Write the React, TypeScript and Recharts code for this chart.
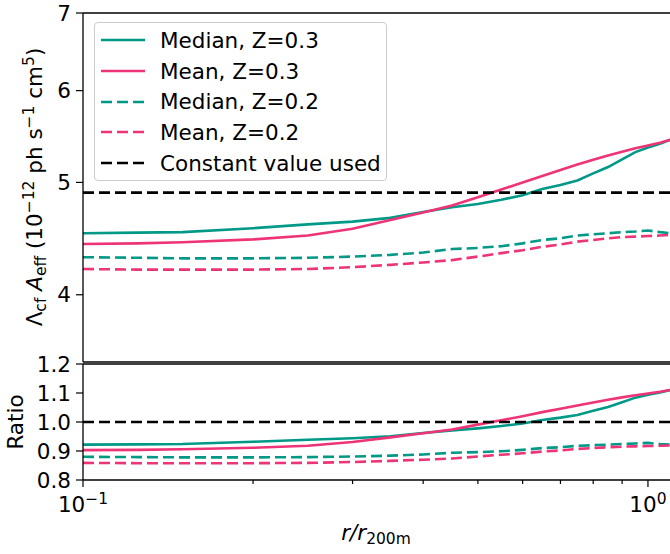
import React from 'react';
import { LineChart, Line, XAxis, YAxis, ReferenceLine, Legend, Label } from 'recharts';

const FONT = '"DejaVu Sans", sans-serif';
const TEAL = '#009988';
const PINK = '#EE3377';
const FS = 21.5;
const FS_SMALL = 15.5;

// r / r200m sample points
const radius = [0.1, 0.125, 0.15, 0.2, 0.25, 0.3, 0.35, 0.4, 0.45, 0.5, 0.55, 0.6, 0.65, 0.7, 0.75, 0.8, 0.85, 0.9, 0.95, 1.0, 1.05, 1.1];

// Lambda_cf * A_eff, 1e-12 ph s^-1 cm^5
const medianZ03 = [4.52, 4.525, 4.53, 4.565, 4.6, 4.625, 4.66, 4.715, 4.76, 4.79, 4.83, 4.875, 4.935, 4.975, 5.02, 5.09, 5.155, 5.235, 5.31, 5.36, 5.4, 5.445];
const meanZ03 = [4.424, 4.43, 4.44, 4.465, 4.5, 4.56, 4.64, 4.71, 4.775, 4.855, 4.93, 5.0, 5.065, 5.125, 5.18, 5.23, 5.275, 5.315, 5.35, 5.38, 5.41, 5.445];
const medianZ02 = [4.31, 4.305, 4.3, 4.3, 4.305, 4.315, 4.33, 4.35, 4.38, 4.39, 4.405, 4.43, 4.46, 4.475, 4.5, 4.51, 4.52, 4.53, 4.535, 4.545, 4.53, 4.52];
const meanZ02 = [4.21, 4.205, 4.205, 4.205, 4.21, 4.225, 4.245, 4.265, 4.285, 4.315, 4.345, 4.37, 4.4, 4.42, 4.445, 4.46, 4.475, 4.485, 4.49, 4.495, 4.5, 4.505];
const constantValue = 4.9;

// ratio panel
const ratioMedianZ03 = [0.922, 0.923, 0.924, 0.932, 0.939, 0.944, 0.951, 0.962, 0.971, 0.978, 0.986, 0.995, 1.007, 1.015, 1.024, 1.039, 1.052, 1.068, 1.084, 1.094, 1.102, 1.111];
const ratioMeanZ03 = [0.903, 0.904, 0.906, 0.911, 0.918, 0.931, 0.947, 0.961, 0.974, 0.991, 1.006, 1.02, 1.034, 1.046, 1.057, 1.067, 1.077, 1.085, 1.092, 1.098, 1.104, 1.111];
const ratioMedianZ02 = [0.88, 0.879, 0.878, 0.878, 0.879, 0.881, 0.884, 0.888, 0.894, 0.896, 0.899, 0.904, 0.91, 0.913, 0.918, 0.92, 0.922, 0.924, 0.926, 0.928, 0.924, 0.922];
const ratioMeanZ02 = [0.859, 0.858, 0.858, 0.858, 0.859, 0.862, 0.866, 0.87, 0.874, 0.881, 0.887, 0.892, 0.898, 0.902, 0.907, 0.91, 0.913, 0.915, 0.916, 0.917, 0.918, 0.919];
const ratioConstant = 1.0;

const xTicks = [0.1, 0.2, 0.3, 0.4, 0.5, 0.6, 0.7, 0.8, 0.9, 1.0];
const topTicks = [4, 5, 6, 7];
const ratioTicks = [0.8, 0.9, 1.0, 1.1, 1.2];
const legendLabels = ['Median, Z=0.3', 'Mean, Z=0.3', 'Median, Z=0.2', 'Mean, Z=0.2', 'Constant value used'];

const X_DOMAIN: [number, number] = [0.1, 1.094];
const TOP_DOMAIN: [number, number] = [3.5, 7];
const RATIO_DOMAIN: [number, number] = [0.8, 1.2];

const topData = radius.map((r, i) => ({ r, a: medianZ03[i], b: meanZ03[i], c: medianZ02[i], d: meanZ02[i] }));
const ratioData = radius.map((r, i) => ({ r, a: ratioMedianZ03[i], b: ratioMeanZ03[i], c: ratioMedianZ02[i], d: ratioMeanZ02[i] }));

const lineStyles = [
  { key: 'a', color: TEAL, dash: undefined },
  { key: 'b', color: PINK, dash: undefined },
  { key: 'c', color: TEAL, dash: '11 5' },
  { key: 'd', color: PINK, dash: '11 5' },
  { key: 'k', color: '#000', dash: '11 5' },
];

const XTick = (props: any) => {
  const { x, y, payload } = props;
  const v = payload.value;
  const major = Math.abs(v - 0.1) < 1e-9 || Math.abs(v - 1) < 1e-9;
  return (
    <g>
      <line x1={x} x2={x} y1={y} y2={y + (major ? 7 : 4)} stroke="#000" strokeWidth={1.2} />
      {major && (
        <text x={x} y={y + 32} textAnchor="middle" fontFamily={FONT} fontSize={FS} fill="#000">
          10<tspan fontSize={FS_SMALL} dy={-8}>{v < 0.5 ? '\u22121' : '0'}</tspan>
        </text>
      )}
    </g>
  );
};

const YTick = (props: any) => {
  const { x, y, payload, digits } = props;
  return (
    <g>
      <line x1={x - 7} x2={x} y1={y} y2={y} stroke="#000" strokeWidth={1.2} />
      <text x={x - 12} y={y + 7.5} textAnchor="end" fontFamily={FONT} fontSize={FS} fill="#000">
        {payload.value.toFixed(digits)}
      </text>
    </g>
  );
};

const LegendBox = () => (
  <div
    style={{
      border: '1px solid #cccccc',
      borderRadius: 4,
      background: 'rgba(255,255,255,0.8)',
      width: 293,
      padding: '2px 0 2px 6px',
      fontFamily: FONT,
      fontSize: FS,
      color: '#000',
      boxSizing: 'border-box',
    }}
  >
    {legendLabels.map((label, i) => (
      <div key={label} style={{ display: 'flex', alignItems: 'center', height: 30.7 }}>
        <svg width={44} height={6} style={{ display: 'block' }}>
          <line x1={0} x2={44} y1={3} y2={3} stroke={lineStyles[i].color} strokeWidth={2.6} strokeDasharray={lineStyles[i].dash} />
        </svg>
        <span style={{ marginLeft: 15, whiteSpace: 'nowrap', lineHeight: 'normal' }}>{label}</span>
      </div>
    ))}
  </div>
);

const TopLabel = () => (
  <text transform="translate(42,187) rotate(-90)" textAnchor="middle" fontFamily={FONT} fontSize={FS} fill="#000">
    {'\u039B'}
    <tspan fontSize={FS_SMALL} dy={4}>cf</tspan>
    <tspan dy={-4}> </tspan>
    <tspan fontStyle="italic">A</tspan>
    <tspan fontSize={FS_SMALL} dy={4}>eff</tspan>
    <tspan dy={-4}> (10</tspan>
    <tspan fontSize={FS_SMALL} dy={-8}>{'\u221212'}</tspan>
    <tspan dy={8}> ph s</tspan>
    <tspan fontSize={FS_SMALL} dy={-8}>{'\u22121'}</tspan>
    <tspan dy={8}> cm</tspan>
    <tspan fontSize={FS_SMALL} dy={-8}>5</tspan>
    <tspan dy={8}>)</tspan>
  </text>
);

// bottom chart starts at page y 340
const RatioLabel = () => (
  <text transform="translate(23,82) rotate(-90)" textAnchor="middle" fontFamily={FONT} fontSize={FS} fill="#000">
    Ratio
  </text>
);

const XLabel = () => (
  <text x={376} y={200} textAnchor="middle" fontFamily={FONT} fontSize={FS} fill="#000">
    <tspan fontStyle="italic">r/r</tspan>
    <tspan fontSize={FS_SMALL} dy={4}>200m</tspan>
  </text>
);

const renderLines = () =>
  lineStyles.slice(0, 4).map((s) => (
    <Line
      key={s.key}
      type="linear"
      dataKey={s.key}
      stroke={s.color}
      strokeWidth={2.6}
      strokeDasharray={s.dash}
      dot={false}
      activeDot={false}
      isAnimationActive={false}
    />
  ));

export default function App() {
  return (
    <div style={{ position: 'fixed', left: 0, top: 0, width: 670, height: 554, overflow: 'hidden', background: '#fff' }}>
      <div style={{ position: 'absolute', left: 0, top: 0 }}>
        <LineChart width={670} height={363} data={topData} margin={{ top: 13, right: 0, bottom: 0, left: 0 }}>
          <XAxis
            type="number"
            dataKey="r"
            scale="log"
            domain={X_DOMAIN}
            allowDataOverflow
            ticks={xTicks}
            tick={false}
            tickLine={false}
            height={1}
            axisLine={{ stroke: '#000', strokeWidth: 1.3 }}
          />
          <YAxis
            type="number"
            scale="log"
            domain={TOP_DOMAIN}
            allowDataOverflow
            ticks={topTicks}
            interval={0}
            width={83}
            tickSize={0}
            tickMargin={0}
            tickLine={false}
            axisLine={{ stroke: '#000', strokeWidth: 1.3 }}
            tick={(p: any) => <YTick {...p} digits={0} />}
          >
            <Label content={() => <TopLabel />} />
          </YAxis>
          {renderLines()}
          <ReferenceLine y={constantValue} stroke="#000" strokeWidth={2.6} strokeDasharray="11 5" />
          <ReferenceLine y={7} stroke="#000" strokeWidth={1.3} />
          <Legend
            layout="horizontal"
            verticalAlign="middle"
            align="center"
            wrapperStyle={{ left: 94, top: 22, width: 'auto', height: 'auto' }}
            content={() => <LegendBox />}
          />
        </LineChart>
      </div>
      <div style={{ position: 'absolute', left: 0, top: 340 }}>
        <LineChart width={670} height={214} data={ratioData} margin={{ top: 24, right: 0, bottom: 0, left: 0 }}>
          <XAxis
            type="number"
            dataKey="r"
            scale="log"
            domain={X_DOMAIN}
            allowDataOverflow
            ticks={xTicks}
            interval={0}
            height={74}
            tickSize={0}
            tickMargin={0}
            tickLine={false}
            axisLine={{ stroke: '#000', strokeWidth: 1.3 }}
            tick={(p: any) => <XTick {...p} />}
          >
            <Label content={() => <XLabel />} />
          </XAxis>
          <YAxis
            type="number"
            domain={RATIO_DOMAIN}
            allowDataOverflow
            ticks={ratioTicks}
            interval={0}
            width={83}
            tickSize={0}
            tickMargin={0}
            tickLine={false}
            axisLine={{ stroke: '#000', strokeWidth: 1.3 }}
            tick={(p: any) => <YTick {...p} digits={1} />}
          >
            <Label content={() => <RatioLabel />} />
          </YAxis>
          {renderLines()}
          <ReferenceLine y={ratioConstant} stroke="#000" strokeWidth={2.6} strokeDasharray="11 5" />
          <ReferenceLine y={1.2} stroke="#000" strokeWidth={1.3} />
        </LineChart>
      </div>
    </div>
  );
}
